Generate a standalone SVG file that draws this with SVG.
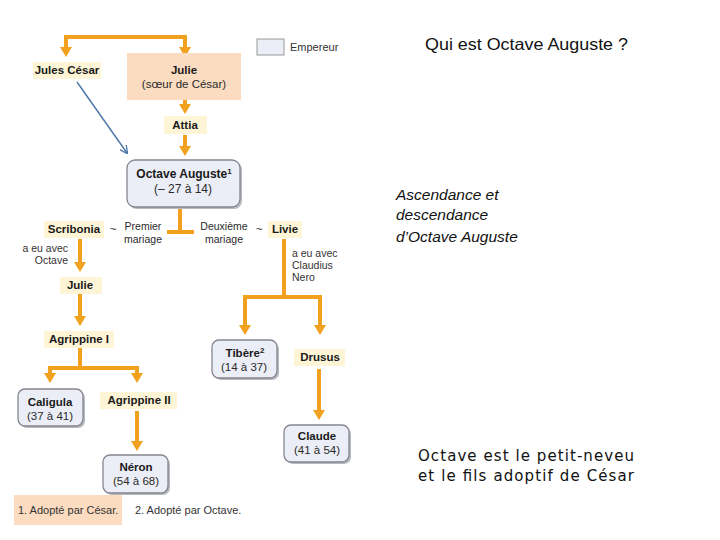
<svg xmlns="http://www.w3.org/2000/svg" width="720" height="540" viewBox="0 0 720 540">
<style>
.n{font-family:"Liberation Sans",Arial,sans-serif;font-size:11.5px;font-weight:bold;fill:#1a1a1a;text-anchor:middle}
.r{font-family:"Liberation Sans",Arial,sans-serif;font-size:11.5px;fill:#2a2a2a;text-anchor:middle}
.s{font-family:"Liberation Sans",Arial,sans-serif;font-size:10.5px;fill:#333}
.sup{font-size:8px}
.lab{fill:#fdf5d6}
.emp{fill:#eceef7;stroke:#85858f;stroke-width:1.3}
.sh{fill:#b9b9c2}
.c{fill:none;stroke:#f2a11f;stroke-width:4}
.t1{font-family:"Liberation Sans",Arial,sans-serif;font-size:16.5px;fill:#111}
.t2{font-family:"Liberation Sans",Arial,sans-serif;font-size:15.5px;font-style:italic;fill:#111}
.t3{font-family:"DejaVu Sans",sans-serif;font-size:15px;fill:#111}
</style>
<defs>
<marker id="a" markerUnits="userSpaceOnUse" markerWidth="12" markerHeight="12" viewBox="0 0 10 12" refX="3" refY="6" orient="auto-start-reverse">
<path d="M0,0 L10,6 L0,12 z" fill="#f2a11f"/>
</marker>
<marker id="b" markerUnits="userSpaceOnUse" markerWidth="8" markerHeight="8" viewBox="0 0 8 8" refX="7" refY="4" orient="auto">
<path d="M0,0 L8,4 L0,8" fill="none" stroke="#4a76a8" stroke-width="1.3"/>
</marker>
</defs>
<rect width="720" height="540" fill="#fff"/>

<g id="legend">
<rect x="257" y="39" width="27" height="16" fill="#eceef7" stroke="#999"/>
<text x="290" y="51" class="s" style="font-size:11px">Empereur</text>
</g>

<g id="connectors">
<polyline class="c" points="66,50 66,37 185,37 185,50" marker-start="url(#a)" marker-end="url(#a)"/>
<line class="c" x1="185" y1="100" x2="185" y2="107" marker-end="url(#a)"/>
<line class="c" x1="185" y1="135" x2="185" y2="149" marker-end="url(#a)"/>
<path class="c" d="M180,207 V232 M167,232 H194"/>
<line class="c" x1="80" y1="239" x2="80" y2="265" marker-end="url(#a)"/>
<line class="c" x1="80" y1="294" x2="80" y2="319" marker-end="url(#a)"/>
<polyline class="c" points="50,376 50,368 137,368 137,376" marker-start="url(#a)" marker-end="url(#a)"/>
<line class="c" x1="80" y1="348" x2="80" y2="368"/>
<line class="c" x1="137" y1="411" x2="137" y2="444" marker-end="url(#a)"/>
<polyline class="c" points="245,328 245,297 320,297 320,328" marker-start="url(#a)" marker-end="url(#a)"/>
<line class="c" x1="284" y1="239" x2="284" y2="297"/>
<line class="c" x1="319" y1="369" x2="319" y2="413" marker-end="url(#a)"/>
<line x1="77" y1="82" x2="127" y2="153" stroke="#4a76a8" stroke-width="1.4" marker-end="url(#b)"/>
</g>

<g id="jules-cesar">
<rect class="lab" x="33" y="62" width="68" height="17"/>
<text x="67" y="74" class="n">Jules César</text>
</g>
<g id="julie-soeur">
<rect x="127" y="53" width="114" height="47" fill="#fbdcc0"/>
<text x="184" y="74" class="n">Julie</text>
<text x="184" y="88" class="r">(sœur de César)</text>
</g>
<g id="attia">
<rect class="lab" x="164" y="116" width="43" height="18"/>
<text x="185" y="129" class="n">Attia</text>
</g>
<g id="octave">
<rect class="sh" x="129" y="162" width="113" height="47" rx="8"/>
<rect class="emp" x="127" y="160" width="113" height="47" rx="8"/>
<text x="184" y="178" class="n" style="font-size:12px">Octave Auguste<tspan class="sup" dy="-4">1</tspan></text>
<text x="183" y="193" class="r" style="font-size:12px">(– 27 à 14)</text>
</g>
<g id="scribonia">
<rect class="lab" x="44" y="221" width="60" height="17"/>
<text x="74" y="233" class="n">Scribonia</text>
<text x="113" y="233" class="r">~</text>
<text x="143" y="230" class="r" style="font-size:10.5px">Premier</text>
<text x="143" y="243" class="r" style="font-size:10.5px">mariage</text>
<text x="68" y="252" class="s" text-anchor="end">a eu avec</text>
<text x="68" y="264" class="s" text-anchor="end">Octave</text>
</g>
<g id="livie">
<rect class="lab" x="268" y="221" width="34" height="17"/>
<text x="285" y="233" class="n">Livie</text>
<text x="259" y="233" class="r">~</text>
<text x="224" y="230" class="r" style="font-size:10.5px">Deuxième</text>
<text x="224" y="243" class="r" style="font-size:10.5px">mariage</text>
<text x="292" y="257" class="s">a eu avec</text>
<text x="292" y="269" class="s">Claudius</text>
<text x="292" y="281" class="s">Nero</text>
</g>
<g id="julie">
<rect class="lab" x="60" y="277" width="42" height="17"/>
<text x="80" y="289" class="n">Julie</text>
</g>
<g id="agrippine1">
<rect class="lab" x="44" y="331" width="70" height="17"/>
<text x="79" y="343" class="n">Agrippine I</text>
</g>
<g id="caligula">
<rect class="sh" x="20" y="391" width="65" height="37" rx="7"/>
<rect class="emp" x="18" y="389" width="65" height="37" rx="7"/>
<text x="50" y="406" class="n">Caligula</text>
<text x="50" y="420" class="r">(37 à 41)</text>
</g>
<g id="agrippine2">
<rect class="lab" x="100" y="392" width="77" height="17"/>
<text x="139" y="404" class="n">Agrippine II</text>
</g>
<g id="neron">
<rect class="sh" x="105" y="457" width="65" height="38" rx="7"/>
<rect class="emp" x="103" y="455" width="65" height="38" rx="7"/>
<text x="136" y="471" class="n">Néron</text>
<text x="136" y="485" class="r">(54 à 68)</text>
</g>
<g id="tibere">
<rect class="sh" x="214" y="342" width="65" height="38" rx="7"/>
<rect class="emp" x="212" y="340" width="65" height="38" rx="7"/>
<text x="245" y="357" class="n">Tibère<tspan class="sup" dy="-4">2</tspan></text>
<text x="244" y="371" class="r">(14 à 37)</text>
</g>
<g id="drusus">
<rect class="lab" x="294" y="349" width="51" height="17"/>
<text x="320" y="361" class="n">Drusus</text>
</g>
<g id="claude">
<rect class="sh" x="286" y="427" width="65" height="37" rx="7"/>
<rect class="emp" x="284" y="425" width="65" height="37" rx="7"/>
<text x="317" y="440" class="n">Claude</text>
<text x="317" y="454" class="r">(41 à 54)</text>
</g>

<g id="footnote">
<rect x="14" y="495" width="108" height="30" fill="#fbdcc0"/>
<text x="18" y="514" class="s" style="font-size:11px">1. Adopté par César.</text>
<text x="135" y="514" class="s" style="font-size:11px">2. Adopté par Octave.</text>
</g>

<g id="titles">
<text x="425" y="50" class="t1" textLength="203" lengthAdjust="spacingAndGlyphs">Qui est Octave Auguste ?</text>
<text x="396" y="200" class="t2">Ascendance et</text>
<text x="396" y="220" class="t2">descendance</text>
<text x="396" y="242" class="t2">d’Octave Auguste</text>
<text x="418" y="461" class="t3" textLength="216">Octave est le petit-neveu</text>
<text x="418" y="481" class="t3" textLength="216">et le fils adoptif de César</text>
</g>
</svg>
